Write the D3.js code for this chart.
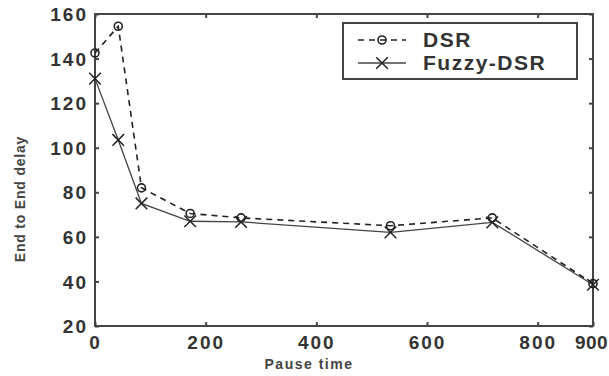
<!DOCTYPE html>
<html>
<head>
<meta charset="utf-8">
<script src="https://cdn.jsdelivr.net/npm/d3@7"></script>
<style>
  body { margin: 0; background: #fff; }
  text { font-family: "Liberation Sans", Arial, sans-serif; }
</style>
</head>
<body>
<div id="chart"></div>
<script>
// pause time values (x) and the delay read for each protocol
const pauseTimes = [0, 42, 84, 172, 264, 534, 718, 900];
const dsrDelay = [142.5, 154.5, 82, 70.5, 68.5, 65, 68.5, 39];
const fuzzyDelay = [131, 103.5, 75, 67, 66.7, 62, 66.5, 38.5];
const xTicks = [0, 200, 400, 600, 800, 900];
const yTicks = [20, 40, 60, 80, 100, 120, 140, 160];
const seriesNames = ["DSR", "Fuzzy-DSR"];

const width = 609, height = 376;
const margin = { top: 14, right: 16, bottom: 50, left: 95 };

const svg = d3.select("#chart")
    .append("svg")
    .attr("width", width)
    .attr("height", height);

const x = d3.scaleLinear()
    .domain([0, 900])
    .range([margin.left, width - margin.right]);

const y = d3.scaleLinear()
    .domain([20, 160])
    .range([height - margin.bottom, margin.top]);

const axisColor = "#444";

// frame
svg.append("rect")
    .attr("x", x(0))
    .attr("y", y(160))
    .attr("width", x(900) - x(0))
    .attr("height", y(20) - y(160))
    .attr("fill", "none")
    .attr("stroke", axisColor)
    .attr("stroke-width", 2);

// axes, ticks pointing inward
const xAxis = svg.append("g")
    .attr("transform", "translate(0," + y(20) + ")")
    .call(d3.axisBottom(x).tickValues(xTicks).tickSize(-4).tickPadding(10).tickFormat(d3.format("d")));
const xTop = svg.append("g")
    .attr("transform", "translate(0," + y(160) + ")")
    .call(d3.axisTop(x).tickValues(xTicks.slice(0, 5)).tickSize(-4).tickFormat(""));
const yAxis = svg.append("g")
    .attr("transform", "translate(" + x(0) + ",0)")
    .call(d3.axisLeft(y).tickValues(yTicks).tickSize(-4).tickPadding(7).tickFormat(d3.format("d")));
const yRight = svg.append("g")
    .attr("transform", "translate(" + x(900) + ",0)")
    .call(d3.axisRight(y).tickValues(yTicks).tickSize(-4).tickFormat(""));

[xAxis, xTop, yAxis, yRight].forEach(g => {
    g.select(".domain").remove();
    g.selectAll(".tick line").attr("stroke", axisColor).attr("stroke-width", 2);
    g.selectAll(".tick text")
        .attr("fill", "#333")
        .style("font-size", "19px")
        .style("letter-spacing", "2px")
        .style("font-weight", "bold");
});
yAxis.selectAll(".tick text").attr("dy", "0.35em");
// last x label sits at the right edge; pull it in so it stays on the page
xAxis.selectAll(".tick text")
    .filter(d => d === 900)
    .style("letter-spacing", "0.5px")
    .attr("dx", "-2");

// axis titles
svg.append("text")
    .attr("x", 309)
    .attr("y", 369)
    .attr("text-anchor", "middle")
    .attr("fill", "#444")
    .style("font-size", "14px")
    .style("letter-spacing", "1.5px")
    .style("font-weight", "bold")
    .text("Pause time");

svg.append("text")
    .attr("transform", "translate(25,199) rotate(-90)")
    .attr("text-anchor", "middle")
    .attr("fill", "#444")
    .style("font-size", "14px")
    .style("letter-spacing", "0.8px")
    .style("font-weight", "bold")
    .text("End to End delay");

const line = d3.line()
    .x((d, i) => x(pauseTimes[i]))
    .y(d => y(d));

// DSR: dashed with circles
svg.append("path")
    .datum(dsrDelay)
    .attr("d", line)
    .attr("fill", "none")
    .attr("stroke", "#222")
    .attr("stroke-width", 1.6)
    .attr("stroke-dasharray", "6,5");

svg.selectAll(".dsr-pt")
    .data(dsrDelay)
    .enter()
    .append("circle")
    .attr("class", "dsr-pt")
    .attr("cx", (d, i) => x(pauseTimes[i]))
    .attr("cy", d => y(d))
    .attr("r", 4)
    .attr("fill", "none")
    .attr("stroke", "#222")
    .attr("stroke-width", 1.6);

// Fuzzy-DSR: solid with x markers
svg.append("path")
    .datum(fuzzyDelay)
    .attr("d", line)
    .attr("fill", "none")
    .attr("stroke", "#444")
    .attr("stroke-width", 1.3);

const cross = d3.symbol().type(d3.symbolX).size(90);
svg.selectAll(".fz-pt")
    .data(fuzzyDelay)
    .enter()
    .append("path")
    .attr("class", "fz-pt")
    .attr("d", cross)
    .attr("transform", (d, i) => "translate(" + x(pauseTimes[i]) + "," + y(d) + ")")
    .attr("fill", "none")
    .attr("stroke", "#222")
    .attr("stroke-width", 1.5);

// legend
const legend = svg.append("g");
legend.append("rect")
    .attr("x", 343)
    .attr("y", 23)
    .attr("width", 234)
    .attr("height", 56)
    .attr("fill", "#fff")
    .attr("stroke", axisColor)
    .attr("stroke-width", 2);

seriesNames.forEach((name, i) => {
    const ly = 40 + i * 23;
    legend.append("line")
        .attr("x1", 358).attr("x2", 406)
        .attr("y1", ly).attr("y2", ly)
        .attr("stroke", i === 0 ? "#222" : "#444")
        .attr("stroke-width", i === 0 ? 1.6 : 1.3)
        .attr("stroke-dasharray", i === 0 ? "6,5" : null);
    if (i === 0) {
        legend.append("circle")
            .attr("cx", 382).attr("cy", ly).attr("r", 4)
            .attr("fill", "none").attr("stroke", "#222").attr("stroke-width", 1.6);
    } else {
        legend.append("path")
            .attr("d", cross)
            .attr("transform", "translate(382," + ly + ")")
            .attr("fill", "none")
            .attr("stroke", "#222")
            .attr("stroke-width", 1.5);
    }
    legend.append("text")
        .attr("x", 423)
        .attr("y", ly)
        .attr("dy", "0.35em")
        .attr("fill", "#333")
        .style("font-size", "21px")
        .style("letter-spacing", "1.5px")
        .style("font-weight", "bold")
        .text(name);
});
</script>
</body>
</html>
